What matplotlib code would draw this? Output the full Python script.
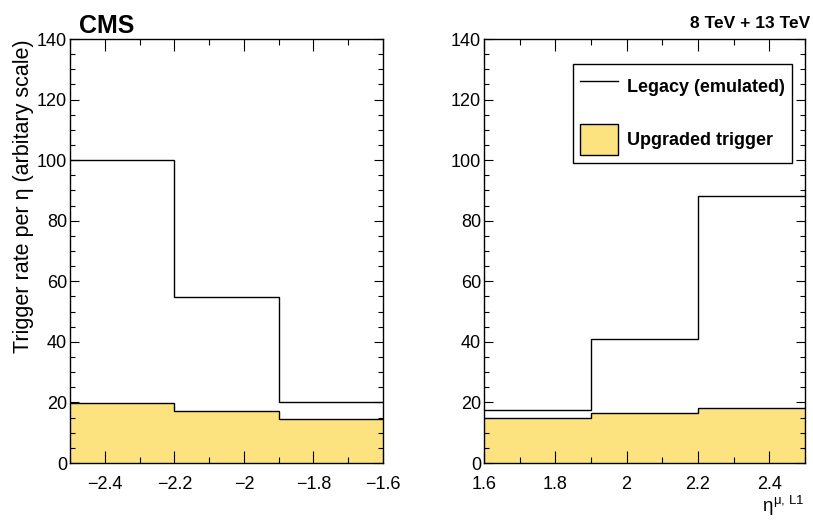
import numpy as np
import matplotlib
matplotlib.use("Agg")
import matplotlib.pyplot as plt
from matplotlib.lines import Line2D
from matplotlib.patches import Patch
from matplotlib.ticker import MultipleLocator

plt.rcParams['font.family'] = ['Liberation Sans', 'DejaVu Sans']
plt.rcParams['mathtext.fontset'] = 'custom'
plt.rcParams['mathtext.rm'] = 'Liberation Sans'
plt.rcParams['mathtext.it'] = 'Liberation Sans'

# bin edges and contents
edges_neg = [-2.5, -2.2, -1.9, -1.6]
legacy_neg = [100.0, 54.8, 20.3]
upgraded_neg = [19.9, 17.3, 14.5]

edges_pos = [1.6, 1.9, 2.2, 2.5]
legacy_pos = [17.5, 40.9, 88.1]
upgraded_pos = [14.9, 16.5, 18.1]

yellow = '#fde380'

fig = plt.figure(figsize=(8.13, 5.2), dpi=100)
ax1 = fig.add_axes([0.0861, 0.1096, 0.385, 0.8154])
ax2 = fig.add_axes([0.5953, 0.1096, 0.3947, 0.8154])


def draw_panel(ax, edges, legacy, upgraded, xticks):
    ax.stairs(upgraded, edges, fill=True, color=yellow, baseline=0)
    ax.stairs(upgraded, edges, color='black', lw=1.0, baseline=None)
    ax.stairs(legacy, edges, color='black', lw=1.0, baseline=None)
    ax.set_xlim(edges[0], edges[-1])
    ax.set_ylim(0, 140)
    ax.set_xticks(xticks)
    ax.xaxis.set_minor_locator(MultipleLocator(0.1))
    ax.yaxis.set_major_locator(MultipleLocator(20))
    ax.yaxis.set_minor_locator(MultipleLocator(5))
    ax.tick_params(which='both', direction='in', top=True, right=True,
                   labelsize=13, width=0.8)
    ax.tick_params(axis='x', which='major', length=8.5, pad=9)
    ax.tick_params(axis='x', which='minor', length=4.3)
    ax.tick_params(axis='y', which='major', length=6.5, pad=2)
    ax.tick_params(axis='y', which='minor', length=3.5)
    for s in ax.spines.values():
        s.set_linewidth(1.0)


draw_panel(ax1, edges_neg, legacy_neg, upgraded_neg, [-2.4, -2.2, -2.0, -1.8, -1.6])
draw_panel(ax2, edges_pos, legacy_pos, upgraded_pos, [1.6, 1.8, 2.0, 2.2, 2.4])
ax1.set_xticklabels(['\u22122.4', '\u22122.2', '\u22122', '\u22121.8', '\u22121.6'])
ax2.set_xticklabels(['1.6', '1.8', '2', '2.2', '2.4'])

# y title sits at the top of the axis, ROOT style
ax1.set_ylabel('Trigger rate per \u03b7 (arbitary scale)', fontsize=15.5)
ax1.yaxis.set_label_coords(-0.115, 1.0)
ax1.yaxis.label.set_ha('right')

ax2.set_xlabel(r'$\eta^{\mu,\,\mathrm{L1}}$', fontsize=13.5)
ax2.xaxis.set_label_coords(1.0, -0.072)
ax2.xaxis.label.set_ha('right')
ax2.xaxis.label.set_va('top')

fig.text(0.097, 0.937, 'CMS', fontsize=18, fontweight='bold', ha='left', va='baseline')
fig.text(0.997, 0.947, '8 TeV + 13 TeV', fontsize=12.5, fontweight='bold',
         ha='right', va='baseline')

handles = [Line2D([], [], color='black', lw=1.0),
           Patch(facecolor=yellow, edgecolor='black', lw=1.0)]
leg = ax2.legend(handles, ['Legacy (emulated)', 'Upgraded trigger'],
                 loc='upper right', bbox_to_anchor=(0.96, 0.942),
                 prop={'weight': 'bold', 'size': 13}, fancybox=False,
                 edgecolor='black', framealpha=1, handlelength=2.1,
                 handleheight=2.3, labelspacing=1.2, borderpad=0.4,
                 handletextpad=0.5, borderaxespad=0)
leg.get_frame().set_linewidth(1.0)

fig.savefig('out.png', dpi=100)
